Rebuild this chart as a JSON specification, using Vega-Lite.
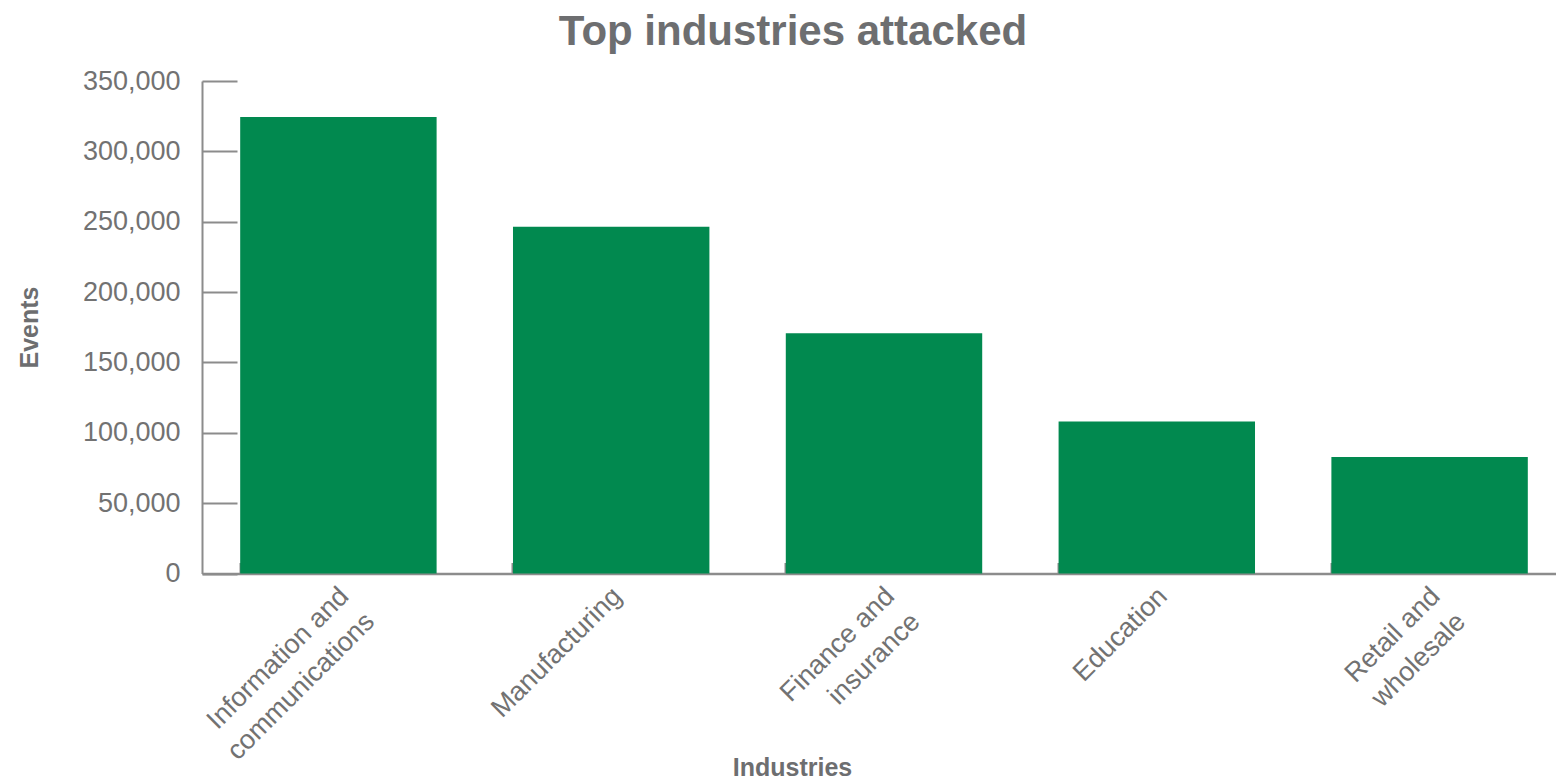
{
  "$schema": "https://vega.github.io/schema/vega-lite/v6.json",
  "autosize": {"type": "none"},
  "width": 1354,
  "height": 492.5,
  "padding": {"left": 202, "top": 81, "right": 0, "bottom": 209.5},
  "background": "white",
  "title": {
    "text": "Top industries attacked",
    "font": "Liberation Sans",
    "fontSize": 42,
    "fontWeight": "bold",
    "color": "#6d6e70",
    "anchor": "middle",
    "frame": "group",
    "dx": -86,
    "baseline": "alphabetic",
    "offset": -20
  },
  "data": {
    "values": [
      {"industry": "Information and communications", "events": 324500},
      {"industry": "Manufacturing", "events": 246500},
      {"industry": "Finance and insurance", "events": 170800},
      {"industry": "Education", "events": 108000},
      {"industry": "Retail and wholesale", "events": 82800}
    ]
  },
  "mark": {"type": "bar", "color": "#01894f"},
  "encoding": {
    "x": {
      "field": "industry",
      "type": "nominal",
      "sort": null,
      "scale": {"range": [0, 1364], "paddingInner": 0.28, "paddingOuter": 0.14},
      "axis": {
        "title": "Industries",
        "titleFont": "Liberation Sans",
        "titleFontSize": 25,
        "titleFontWeight": "bold",
        "titleColor": "#6d6e70",
        "titleX": 590,
        "titleY": 194,
        "titleAlign": "center",
        "titleBaseline": "middle",
        "labelFont": "Liberation Sans",
        "labelFontSize": 27,
        "labelColor": "#727272",
        "labelAngle": -45,
        "labelAlign": "right",
        "labelBaseline": "top",
        "labelPadding": 20,
        "labelOffset": -3,
        "labelLineHeight": 36,
        "labelLimit": 0,
        "labelOverlap": false,
        "labelExpr": "split(replace(datum.value, ' and ', ' and|'), '|')",
        "bandPosition": 0,
        "tickSize": -11,
        "tickWidth": 2,
        "tickColor": "#8c8c8c",
        "domainColor": "#8c8c8c",
        "domainWidth": 2.5
      }
    },
    "y": {
      "field": "events",
      "type": "quantitative",
      "scale": {"domain": [0, 350000], "nice": false},
      "axis": {
        "title": "Events",
        "titleFont": "Liberation Sans",
        "titleFontSize": 25,
        "titleFontWeight": "bold",
        "titleColor": "#6d6e70",
        "titleAngle": -90,
        "titleX": -173,
        "titleY": 246,
        "titleAlign": "center",
        "titleBaseline": "middle",
        "labelFont": "Liberation Sans",
        "labelFontSize": 27,
        "labelColor": "#727272",
        "labelPadding": 57,
        "tickSize": -35,
        "tickWidth": 2,
        "tickColor": "#8c8c8c",
        "domainColor": "#8c8c8c",
        "domainWidth": 2,
        "values": [0, 50000, 100000, 150000, 200000, 250000, 300000, 350000],
        "format": ",.0f",
        "grid": false
      }
    }
  },
  "config": {"view": {"stroke": null}}
}
